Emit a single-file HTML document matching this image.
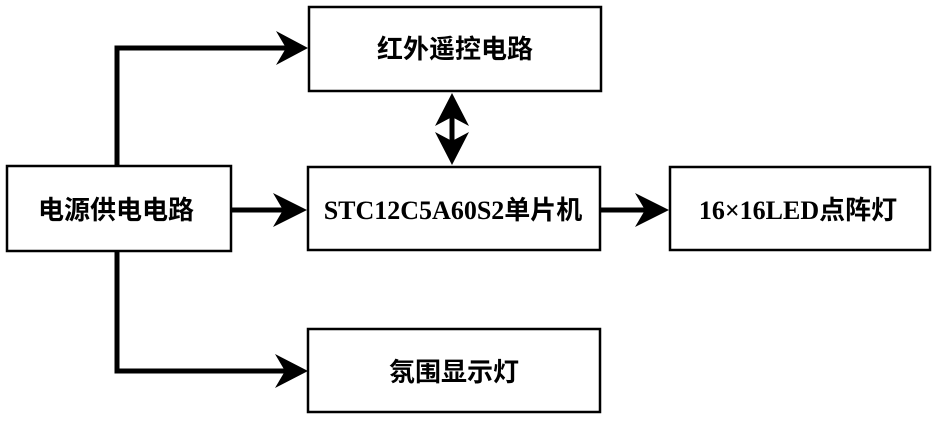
<!DOCTYPE html>
<html><head><meta charset="utf-8"><style>
body{margin:0;background:#fff;width:935px;height:420px;overflow:hidden}
svg text{font-family:"Liberation Serif","Noto Sans CJK SC",serif;font-weight:bold;font-size:26px;fill:#000}
</style></head><body>
<svg width="935" height="420" xmlns="http://www.w3.org/2000/svg">
<g fill="none" stroke="#000" stroke-width="2.5">
<rect x="309" y="7" width="292" height="84"/>
<rect x="7" y="166" width="224" height="85"/>
<rect x="308" y="167" width="292" height="83"/>
<rect x="670" y="167" width="260" height="83"/>
<rect x="308" y="329" width="292" height="83"/>
</g>
<g fill="none" stroke="#000" stroke-width="5">
<polyline points="117,166 117,48 290,48"/>
<polyline points="117,251 117,371 290,371"/>
<line x1="231" y1="210" x2="290" y2="210"/>
<line x1="600" y1="210" x2="652" y2="210"/>
<line x1="452" y1="110" x2="452" y2="150"/>
</g>
<g fill="#000">
<polygon points="308,48 276,31 286,48 276,65"/>
<polygon points="308,371 275,354 285,371 275,388"/>
<polygon points="307,210 273,193 283,210 273,227"/>
<polygon points="669,210 635,193 645,210 635,227"/>
<polygon points="452,93 435,126 452,117 469,126"/>
<polygon points="452,165 435,132 452,141 469,132"/>
</g>
<text x="455" y="58" text-anchor="middle">红外遥控电路</text>
<text x="116" y="219" text-anchor="middle">电源供电电路</text>
<text x="453" y="219" text-anchor="middle">STC12C5A60S2单片机</text>
<text x="798" y="219" text-anchor="middle">16×16LED点阵灯</text>
<text x="454" y="381" text-anchor="middle">氛围显示灯</text>
</svg>
</body></html>
